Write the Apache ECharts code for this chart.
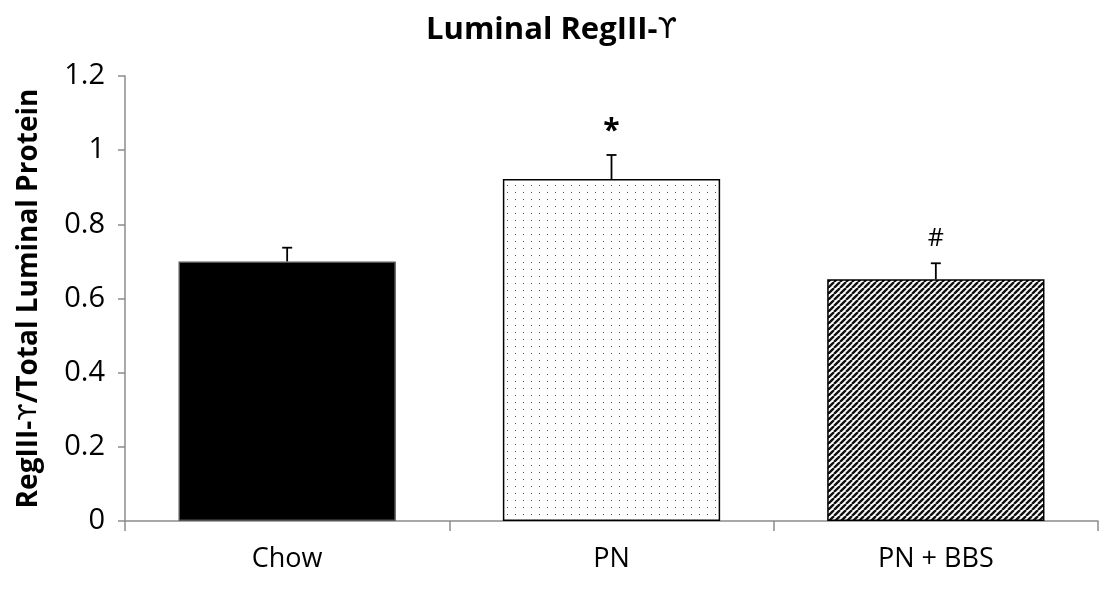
<!DOCTYPE html>
<html>
<head>
<meta charset="utf-8">
<script src="https://cdn.jsdelivr.net/npm/echarts@6/dist/echarts.min.js"></script>
<style>
  html, body { margin: 0; padding: 0; background: #fff; }
  #chart { width: 1103px; height: 594px; }
</style>
</head>
<body>
<div id="chart"></div>
<script>
// Groups, means, upper error (SEM) and significance marks
const categories = ['Chow', 'PN', 'PN + BBS'];
const means = [0.70, 0.922, 0.652];
const errors = [0.037, 0.065, 0.043];
const marks = ['', '*', '#'];
const yTicks = [0, 0.2, 0.4, 0.6, 0.8, 1, 1.2];

const FONT = '"Open Sans", Lato, sans-serif';
const GREEK = '"DejaVu Sans", sans-serif';

// Fill patterns drawn on small canvases
function dotPattern() {
  const c = document.createElement('canvas');
  c.width = 8; c.height = 7;
  const g = c.getContext('2d');
  g.fillStyle = '#fff'; g.fillRect(0, 0, 8, 7);
  g.fillStyle = '#555'; g.fillRect(3, 3, 1, 1);
  return c;
}
function hatchPattern() {
  const s = 6;
  const c = document.createElement('canvas');
  c.width = s; c.height = s;
  const g = c.getContext('2d');
  g.fillStyle = '#fff'; g.fillRect(0, 0, s, s);
  g.strokeStyle = '#111'; g.lineWidth = 2.4;
  g.beginPath();
  for (let k = -1; k <= 1; k++) {
    g.moveTo(k * s, s); g.lineTo(k * s + s, 0);
  }
  g.stroke();
  return c;
}

const fills = [
  { color: '#000', borderColor: '#555' },
  { color: { image: dotPattern(), repeat: 'repeat' }, borderColor: '#000' },
  { color: { image: hatchPattern(), repeat: 'repeat' }, borderColor: '#000' }
];

const chart = echarts.init(document.getElementById('chart'), null, { renderer: 'canvas' });

chart.setOption({
  animation: false,
  backgroundColor: '#fff',
  title: {
    text: '{b|Luminal RegIII-}{g|\u03D2}',
    left: 'center',
    top: 10,
    textStyle: {
      rich: {
        b: { fontFamily: FONT, fontWeight: 'bold', fontSize: 31, color: '#000' },
        g: { fontFamily: GREEK, fontWeight: 'normal', fontSize: 28, color: '#000' }
      }
    }
  },
  grid: { left: 125, right: 5, top: 76, bottom: 73, containLabel: false },
  xAxis: {
    type: 'category',
    data: categories,
    axisLine: { lineStyle: { color: '#8c8c8c', width: 1.5 } },
    axisTick: { show: true, length: 10, alignWithLabel: false, lineStyle: { color: '#8c8c8c', width: 1.5 } },
    axisLabel: { fontFamily: FONT, fontSize: 27, color: '#000', margin: 25 }
  },
  yAxis: {
    type: 'value',
    min: 0, max: 1.2, interval: 0.2,
    name: '{b|RegIII-}{g|\u03D2}{b|/Total Luminal Protein}',
    nameLocation: 'middle',
    nameGap: 82,
    nameTextStyle: {
      rich: {
        b: { fontFamily: FONT, fontWeight: 'bold', fontSize: 28, color: '#000' },
        g: { fontFamily: GREEK, fontWeight: 'normal', fontSize: 25, color: '#000' }
      }
    },
    axisLine: { show: true, lineStyle: { color: '#8c8c8c', width: 1.5 } },
    axisTick: { show: true, length: 7, inside: false, lineStyle: { color: '#8c8c8c', width: 1.5 } },
    splitLine: { show: false },
    axisLabel: {
      fontFamily: FONT, fontSize: 29, color: '#000', margin: 20,
      formatter: v => {
        const t = yTicks.find(x => Math.abs(x - v) < 1e-9);
        return t === undefined ? '' : String(t);
      }
    }
  },
  series: [
    {
      type: 'bar',
      barCategoryGap: '33%',
      data: means.map((v, i) => ({
        value: v,
        itemStyle: { color: fills[i].color, borderColor: fills[i].borderColor, borderWidth: 1.5 }
      })),
      z: 2
    },
    {
      // upward error bars with caps, plus significance marks
      type: 'custom',
      data: means.map((v, i) => [i, v, errors[i], marks[i]]),
      renderItem: (params, api) => {
        const x = api.value(0);
        const top = api.coord([x, api.value(1) + api.value(2)]);
        const base = api.coord([x, api.value(1)]);
        const cap = 5;
        const children = [
          { type: 'line', shape: { x1: base[0], y1: base[1], x2: top[0], y2: top[1] },
            style: { stroke: '#000', lineWidth: 1.8 } },
          { type: 'line', shape: { x1: top[0] - cap, y1: top[1], x2: top[0] + cap, y2: top[1] },
            style: { stroke: '#000', lineWidth: 1.8 } }
        ];
        const mk = marks[params.dataIndex];
        if (mk) {
          children.push({
            type: 'text',
            style: {
              text: mk, x: top[0], y: top[1] - 24,
              textAlign: 'center', textVerticalAlign: 'middle',
              fontFamily: FONT, fontSize: mk === '*' ? 30 : 25, fontWeight: mk === '*' ? 'bold' : 'normal', fill: '#000'
            }
          });
        }
        return { type: 'group', children };
      },
      z: 3
    }
  ]
});
</script>
</body>
</html>
